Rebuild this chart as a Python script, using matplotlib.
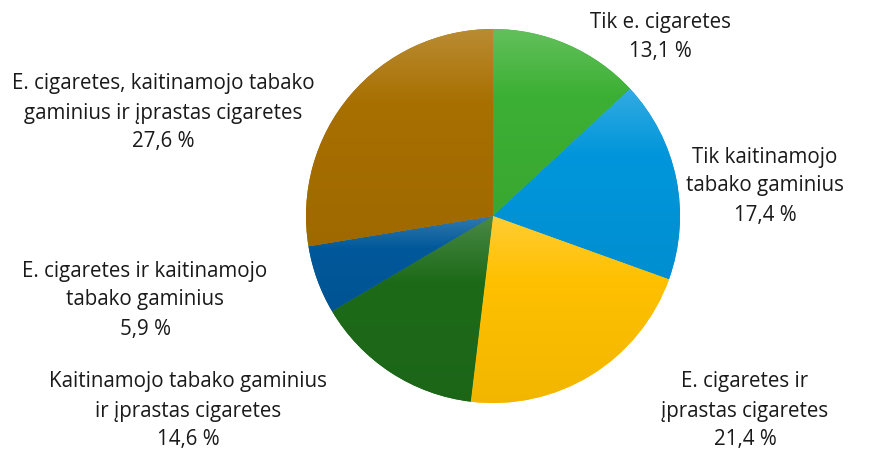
import numpy as np
import matplotlib.pyplot as plt
from matplotlib.colors import to_rgb

plt.rcParams['font.family'] = ['Open Sans', 'DejaVu Sans']

labels = [
    "Tik e. cigaretes",
    "Tik kaitinamojo\ntabako gaminius",
    "E. cigaretes ir\nįprastas cigaretes",
    "Kaitinamojo tabako gaminius\nir įprastas cigaretes",
    "E. cigaretes ir kaitinamojo\ntabako gaminius",
    "E. cigaretes, kaitinamojo tabako\ngaminius ir įprastas cigaretes",
]
shares = [13.1, 17.4, 21.4, 14.6, 5.9, 27.6]
colors = ["#3cb034", "#0096db", "#ffc000", "#1d6b19", "#00589a", "#a86f00"]

# label anchor points (pixel coords, y downward)
label_pos = [(660, 37), (765, 186), (745, 411), (188, 411), (145, 300), (163, 113)]

W, H = 872, 449
fig = plt.figure(figsize=(W / 100, H / 100), dpi=100)
ax = fig.add_axes([0, 0, 1, 1])

cx, cy, r = 493, H - 216, 187
wedges, _ = ax.pie(shares, colors=colors, startangle=90, counterclock=False,
                   center=(cx, cy), radius=r)


def shade(c, t):
    c = np.array(to_rgb(c))
    if t >= 0:
        return c + (1 - c) * t
    return c * (1 + t)


# vertical gradient inside each slice: lighter at the top, slightly darker below
for w, c in zip(wedges, colors):
    bb = w.get_path().get_extents()
    n = 200
    s = np.linspace(0, 1, n)  # 0 = top, 1 = bottom
    tvals = np.where(s < 0.35, 0.2 * (1 - s / 0.35), -0.05 * (s - 0.35) / 0.65)
    grad = np.array([shade(c, t) for t in tvals])[:, None, :]
    im = ax.imshow(grad, extent=[bb.x0, bb.x1, bb.y0, bb.y1], origin='upper',
                   aspect='auto', interpolation='bilinear', zorder=2)
    im.set_clip_path(w)

for lab, v, (x, y) in zip(labels, shares, label_pos):
    txt = lab + "\n" + f"{v:.1f} %".replace(".", ",")
    ax.text(x, H - y, txt, ha='center', va='center', fontsize=14.8,
            color='#1a1a1a', linespacing=1.5, zorder=3)

ax.set_xlim(0, W)
ax.set_ylim(0, H)
ax.set_aspect('equal')
ax.axis('off')

fig.savefig("out.png", dpi=100, facecolor='white')
